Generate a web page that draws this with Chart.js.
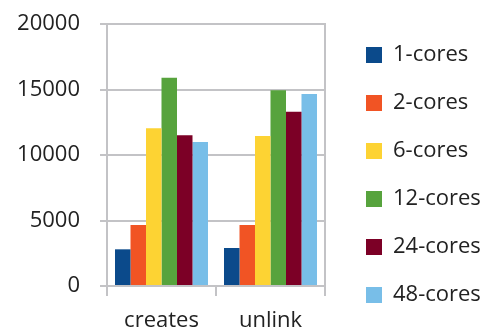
<!DOCTYPE html>
<html lang="en">
<head>
    <meta charset="UTF-8">
    <title>Cores chart</title>
    <style>
        html, body {
            margin: 0;
            padding: 0;
            background-color: white;
            overflow: hidden;
        }
        .chart-box {
            width: 487px;
            height: 329px;
        }
    </style>
    <script src="https://cdn.jsdelivr.net/npm/chart.js@4.4.1/dist/chart.umd.min.js"></script>
</head>
<body>
    <div class="chart-box">
        <canvas id="myChart"></canvas>
    </div>
    <script>
        const categories = ['creates', 'unlink'];
        const seriesNames = ['1-cores', '2-cores', '6-cores', '12-cores', '24-cores', '48-cores'];
        const cores1 = [2800, 2900];
        const cores2 = [4650, 4650];
        const cores6 = [12050, 11450];
        const cores12 = [15900, 14950];
        const cores24 = [11500, 13300];
        const cores48 = [11000, 14650];
        const yTicks = [0, 5000, 10000, 15000, 20000];

        const seriesValues = [cores1, cores2, cores6, cores12, cores24, cores48];
        const colors = ['#0B4A8B', '#F15424', '#FDD333', '#57A33D', '#7C0026', '#78BEE8'];
        const gridGray = '#C3C3C6';

        Chart.defaults.font.family = "'Open Sans', sans-serif";
        Chart.defaults.color = '#222';
        Chart.defaults.animation = false;

        const ctx = document.getElementById('myChart').getContext('2d');
        new Chart(ctx, {
            type: 'bar',
            data: {
                labels: categories,
                datasets: seriesNames.map((name, i) => ({
                    label: name,
                    data: seriesValues[i],
                    backgroundColor: colors[i],
                    borderWidth: 0,
                    barPercentage: 1,
                    categoryPercentage: 0.853
                }))
            },
            options: {
                responsive: true,
                maintainAspectRatio: false,
                layout: {
                    padding: { left: 0, top: 0, right: 0, bottom: -3 }
                },
                scales: {
                    x: {
                        afterFit: axis => {
                            axis.height = 46;
                            axis.paddingLeft = 0;
                            axis.paddingRight = 0;
                        },
                        grid: {
                            drawOnChartArea: false,
                            color: gridGray,
                            lineWidth: 2,
                            tickLength: 10
                        },
                        border: { color: gridGray, width: 2 },
                        ticks: {
                            font: { size: 22 },
                            padding: 12
                        }
                    },
                    y: {
                        min: 0,
                        max: 20000,
                        afterFit: axis => {
                            axis.width = 107;
                            axis.paddingTop = 24;
                            axis.paddingBottom = 0;
                        },
                        afterBuildTicks: axis => {
                            axis.ticks = yTicks.map(v => ({ value: v }));
                        },
                        grid: {
                            color: gridGray,
                            lineWidth: 2,
                            tickLength: 7
                        },
                        border: { color: gridGray, width: 2 },
                        ticks: {
                            font: { size: 22 },
                            padding: 20,
                            callback: v => String(v)
                        }
                    },
                    y2: {
                        position: 'right',
                        min: 0,
                        max: 20000,
                        afterFit: axis => {
                            axis.width = 15;
                            axis.paddingTop = 0;
                            axis.paddingBottom = 0;
                        },
                        grid: { drawOnChartArea: false, drawTicks: false },
                        border: { color: gridGray, width: 2 },
                        ticks: { display: false }
                    }
                },
                plugins: {
                    legend: {
                        position: 'right',
                        align: 'end',
                        maxWidth: 147,
                        labels: {
                            boxWidth: 16,
                            boxHeight: 16,
                            padding: 26,
                            font: { size: 22 }
                        }
                    },
                    tooltip: { enabled: false }
                }
            }
        });
    </script>
</body>
</html>
